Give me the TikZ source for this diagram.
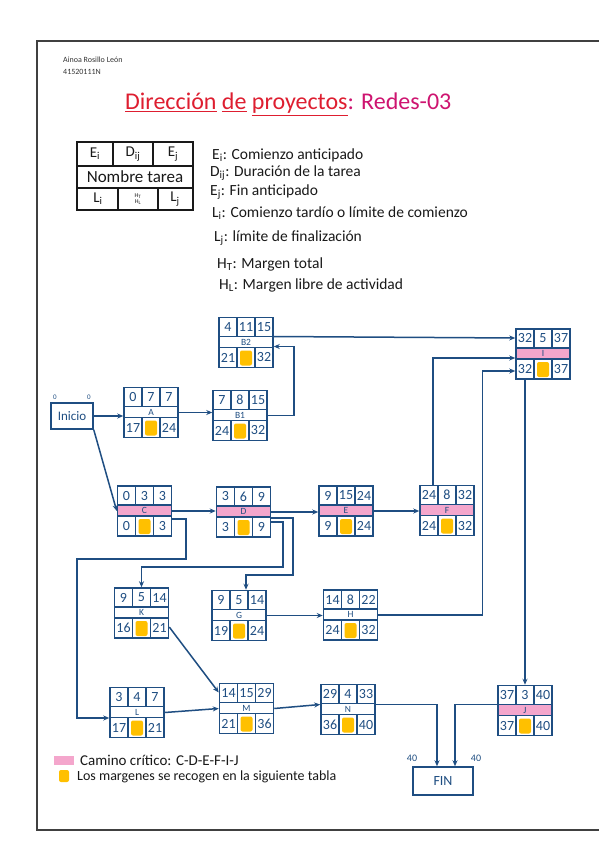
\documentclass[tikz,border=0pt]{standalone}
\usepackage{fontspec}
\setmainfont{Carlito}
\usetikzlibrary{arrows.meta, positioning}

\definecolor{azul}{RGB}{31,78,130}
\definecolor{rosa}{RGB}{244,166,204}
\definecolor{margen}{RGB}{255,192,0}
\definecolor{rojo}{RGB}{222,30,48}
\definecolor{fucsia}{RGB}{206,20,112}
\definecolor{tinta}{RGB}{25,25,25}

\tikzset{
  linea/.style={draw=azul, line width=1.5pt},
  caja/.style={linea, inner sep=0pt},
  flecha/.style={linea, -{Stealth[length=6pt, width=5pt]}},
  num/.style={text=azul, inner sep=0pt, font=\fontsize{14}{14}\selectfont},
  etiq/.style={text=azul, inner sep=0pt, font=\fontsize{9.5}{9.5}\selectfont},
  nota/.style={text=tinta, anchor=west, inner sep=0pt, font=\fontsize{15.5}{16}\selectfont},
}

% name, position, Ei, Dij, Ej, task, Li, Lj, colour of the task row
\newcommand{\tarea}[9]{%
  \begin{scope}[shift={(#2)}]
    \fill[#9] (-27,-6) rectangle (27,5);
    \fill[margen, rounded corners=2pt] (-6,8) rectangle (6,23);
    \draw[linea] (-27,-6) -- (27,-6) (-27,5) -- (27,5)
      (-9,-25) -- (-9,-6) (9,-25) -- (9,-6)
      (-9,5) -- (-9,25) (9,5) -- (9,25);
    \node[num] (#1ei) at (-18,-15.5) {#3};
    \node[num] (#1d) at (0,-15.5) {#4};
    \node[num] (#1ej) at (18,-15.5) {#5};
    \node[etiq] (#1n) at (0,-0.5) {#6};
    \node[num] (#1li) at (-18,15) {#7};
    \node[num] (#1lj) at (18,15) {#8};
  \end{scope}
  \node[caja, minimum width=54pt, minimum height=50pt] (#1) at (#2) {};
}

\begin{document}
\begin{tikzpicture}[x=1pt, y=-1pt]
  \useasboundingbox (0,0) rectangle (599,848);
  \fill[white] (0,0) rectangle (599,848);
  \draw[line width=1.5pt, black!75] (37,41) rectangle (603,830);

  % Header
  \node[anchor=west, inner sep=0pt, text=black!80, font=\fontsize{8}{8}\selectfont] (autora) at (63,60) {Ainoa Rosillo León};
  \node[anchor=west, inner sep=0pt, text=black!80, font=\fontsize{8}{8}\selectfont] (dni) at (63,72) {41520111N};
  \node[anchor=base west, inner sep=0pt, font=\fontsize{24}{24}\selectfont] (titulo) at (125,110)
    {\textcolor{rojo}{\underline{Dirección} \underline{de} \underline{proyectos}}\textcolor{fucsia}{: Redes-03}};

  % Key box
  \draw[line width=1.2pt, tinta] (77,142) rectangle (193,210)
    (77,166) -- (193,166) (77,188) -- (193,188)
    (113,142) -- (113,166) (153,142) -- (153,166)
    (118,188) -- (118,210) (158,188) -- (158,210);
  \node[text=tinta, font=\fontsize{15}{15}\selectfont] (clave-ei) at (95,154) {E\textsubscript{i}};
  \node[text=tinta, font=\fontsize{15}{15}\selectfont] (clave-d) at (133,154) {D\textsubscript{ij}};
  \node[text=tinta, font=\fontsize{15}{15}\selectfont] (clave-ej) at (173,154) {E\textsubscript{j}};
  \node[text=tinta, font=\fontsize{17}{17}\selectfont] (clave-n) at (135,177) {Nombre tarea};
  \node[text=tinta, font=\fontsize{15}{15}\selectfont] (clave-li) at (98,199) {L\textsubscript{i}};
  \node[text=tinta, inner sep=0pt, align=center, font=\fontsize{6}{6}\selectfont] (clave-h) at (138,199) {H\textsubscript{T}\\H\textsubscript{L}};
  \node[text=tinta, font=\fontsize{15}{15}\selectfont] (clave-lj) at (175,199) {L\textsubscript{j}};

  % Key text
  \node[nota] (def-ei) at (212,155) {E\textsubscript{i}: Comienzo anticipado};
  \node[nota] (def-d) at (210,173) {D\textsubscript{ij}: Duración de la tarea};
  \node[nota] (def-ej) at (210,192) {E\textsubscript{j}: Fin anticipado};
  \node[nota] (def-li) at (212,213) {L\textsubscript{i}: Comienzo tardío o límite de comienzo};
  \node[nota] (def-lj) at (214,238) {L\textsubscript{j}: límite de finalización};
  \node[nota] (def-ht) at (217,264) {H\textsubscript{T}: Margen total};
  \node[nota] (def-hl) at (219,285) {H\textsubscript{L}: Margen libre de actividad};

  % Nodes
  \node[caja, minimum width=42pt, minimum height=26pt, text=azul, font=\fontsize{13}{13}\selectfont] (inicio) at (72,416) {Inicio};
  \node[etiq, font=\fontsize{7}{7}\selectfont] (inicio-a) at (55,397) {0};
  \node[etiq, font=\fontsize{7}{7}\selectfont] (inicio-b) at (89,397) {0};
  \tarea{B2}{246,342.5}{4}{11}{15}{B2}{21}{32}{white}
  \tarea{I}{543,354}{32}{5}{37}{I}{32}{37}{rosa}
  \tarea{A}{151,412.5}{0}{7}{7}{A}{17}{24}{white}
  \tarea{B1}{240,415.5}{7}{8}{15}{B1}{24}{32}{white}
  \tarea{C}{144.5,511}{0}{3}{3}{C}{0}{3}{rosa}
  \tarea{D}{243.5,512}{3}{6}{9}{D}{3}{9}{rosa}
  \tarea{E}{346,511}{9}{15}{24}{E}{9}{24}{rosa}
  \tarea{F}{447,510.5}{24}{8}{32}{F}{24}{32}{rosa}
  \tarea{K}{141.5,613}{9}{5}{14}{K}{16}{21}{white}
  \tarea{G}{239,615.5}{9}{5}{14}{G}{19}{24}{white}
  \tarea{H}{350.5,615}{14}{8}{22}{H}{24}{32}{white}
  \tarea{L}{137,712.5}{3}{4}{7}{L}{17}{21}{white}
  \tarea{M}{246.5,708.5}{14}{15}{29}{M}{21}{36}{white}
  \tarea{N}{348,709.5}{29}{4}{33}{N}{36}{40}{white}
  \tarea{J}{525,710.5}{37}{3}{40}{J}{37}{40}{rosa}
  \node[caja, minimum width=60pt, minimum height=28pt, text=azul, font=\fontsize{14}{14}\selectfont] (fin) at (443,781) {FIN};
  \node[etiq, font=\fontsize{10}{10}\selectfont] (fin-a) at (412,758) {40};
  \node[etiq, font=\fontsize{10}{10}\selectfont] (fin-b) at (476,758) {40};

  % Edges
  \draw[flecha] (inicio.east) -- (inicio.east -| A.west);
  \draw[flecha] (inicio.south east) -- (C.west);
  \draw[flecha] (A.east) -- (A.east -| B1.west);
  \draw[flecha] (B1.east) -- ++(26,0) |- ([yshift=-4pt]B2.east);
  \draw[flecha] ([yshift=6pt]B2.east) -- ([yshift=16pt]I.west);
  \draw[flecha] ([xshift=-14pt]F.north) |- ([yshift=-4pt]I.west);
  \draw[flecha] (H.east) -- ++(104,0) |- ([yshift=-17pt]I.west);
  \draw[flecha] (I.south -| J.north) -- (J.north);
  \draw[flecha] (C.east) -- (C.east -| D.west);
  \draw[flecha] (D.east) -- (D.east -| E.west);
  \draw[flecha] (E.east) -- (E.east -| F.west);
  \draw[flecha] ([yshift=-8pt]C.east) -| (186,559) -| (77,718) -- ([yshift=-5.5pt]L.west);
  \draw[flecha] ([yshift=-10pt]D.east) -| (283,567) -| (K.north);
  \draw[flecha] ([yshift=-6pt]D.east) -| (293,575) -| ([xshift=7pt]G.north);
  \draw[flecha] (G.east) -- (G.east -| H.west);
  \draw[flecha] ([yshift=-14pt]K.east) -- ([yshift=16pt]M.west);
  \draw[flecha] (L.east) -- (M.west);
  \draw[flecha] (M.east) -- ([yshift=5pt]N.west);
  \draw[flecha] ([yshift=5pt]N.east) -| ([xshift=-6pt]fin.north);
  \draw[flecha] ([yshift=6pt]J.west) -| ([xshift=12pt]fin.north);

  % Legend
  \fill[rosa] (54,756) rectangle (74,765);
  \node[nota, font=\fontsize{15}{15}\selectfont] (critico) at (80,760) {Camino crítico: C-D-E-F-I-J};
  \fill[margen, rounded corners=2pt] (59,770) rectangle (69,782);
  \node[nota, font=\fontsize{14}{14}\selectfont] (margenes) at (77,777) {Los margenes se recogen en la siguiente tabla};
\end{tikzpicture}
\end{document}
